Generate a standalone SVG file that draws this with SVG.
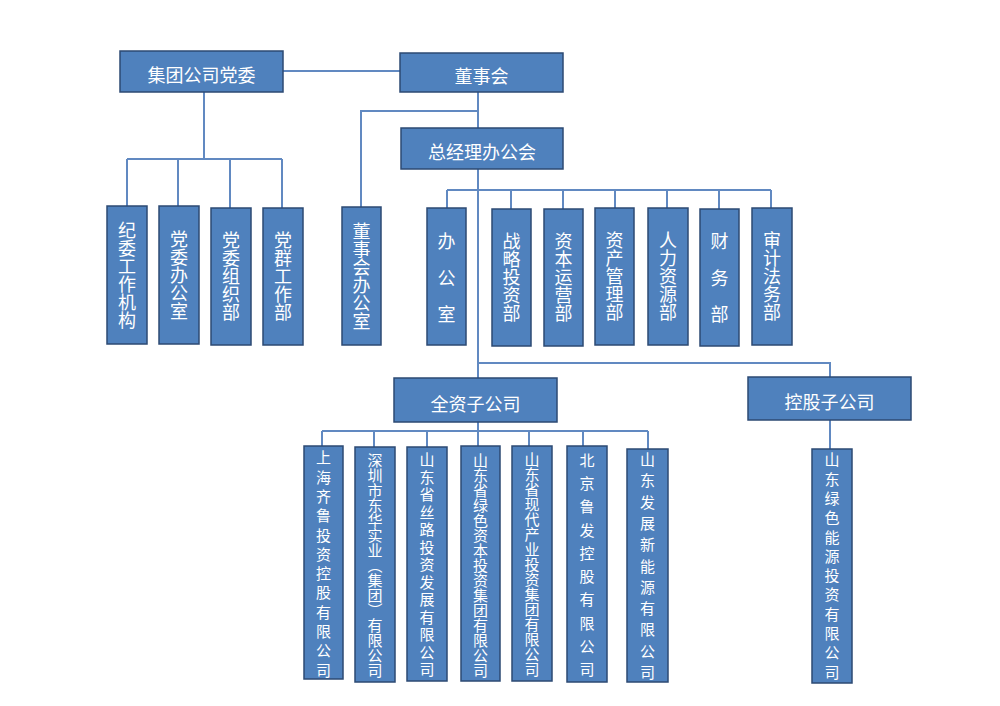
<svg xmlns="http://www.w3.org/2000/svg" width="1000" height="706" viewBox="0 0 1000 706">
<style>
.box{fill:#4F81BD;stroke:#2C4A73;stroke-width:1.5}
.t{fill:#fff;font-family:"Noto Sans CJK SC","Noto Sans",sans-serif;font-size:18px;text-anchor:middle;dominant-baseline:central}
.v{fill:#fff;font-family:"Noto Sans CJK SC","Noto Sans",sans-serif;font-size:18px;text-anchor:middle;writing-mode:vertical-rl}
.s{font-size:15px}
.c{fill:none;stroke:#6189C1;stroke-width:2}
</style>
<rect width="1000" height="706" fill="#fff"/>
<g id="connectors" class="c">
<path d="M283 71H400"/>
<path d="M204 92V159M127 159H282M127 159V206M178 159V206M230 159V208M282 159V208"/>
<path d="M478 92V128M478 111H361V207"/>
<path d="M478 169V378M447 190H771M447 190V208M511 190V209M563 190V209M615 190V208M667 190V208M719 190V209M771 190V208"/>
<path d="M478 363H830V377"/>
<path d="M478 422V431M322 431H648M322 431V446M374 431V447M427 431V447M478 431V446M529 431V446M583 431V446M648 431V449"/>
<path d="M830 420V449"/>
</g>
<g id="n-party"><rect class="box" x="120" y="51" width="163" height="41"/><text class="t" x="201.5" y="74">集团公司党委</text></g>
<g id="n-board"><rect class="box" x="400" y="53" width="163" height="39"/><text class="t" x="481.5" y="75">董事会</text></g>
<g id="n-gm"><rect class="box" x="401" y="128" width="162" height="41"/><text class="t" x="482" y="151">总经理办公会</text></g>
<g id="n-jw"><rect class="box" x="107" y="206" width="40" height="138"/><text class="v" x="127" y="275">纪委工作机构</text></g>
<g id="n-dwbgs"><rect class="box" x="159" y="206" width="40" height="138"/><text class="v" x="179" y="275">党委办公室</text></g>
<g id="n-dwzzb"><rect class="box" x="211" y="208" width="40" height="137"/><text class="v" x="231" y="276">党委组织部</text></g>
<g id="n-dqgzb"><rect class="box" x="263" y="208" width="40" height="137"/><text class="v" x="283" y="276">党群工作部</text></g>
<g id="n-dshbgs"><rect class="box" x="342" y="207" width="39" height="138"/><text class="v" x="361.5" y="276">董事会办公室</text></g>
<g id="n-bgs"><rect class="box" x="427" y="208" width="39" height="137"/><text class="v" x="446.5" y="287" letter-spacing="18.5">办公室</text></g>
<g id="n-zltzb"><rect class="box" x="492" y="209" width="39" height="137"/><text class="v" x="511.5" y="277">战略投资部</text></g>
<g id="n-zbyyb"><rect class="box" x="544" y="209" width="39" height="137"/><text class="v" x="563.5" y="277">资本运营部</text></g>
<g id="n-zcglb"><rect class="box" x="595" y="208" width="39" height="137"/><text class="v" x="614.5" y="276">资产管理部</text></g>
<g id="n-rlzyb"><rect class="box" x="648" y="208" width="40" height="137"/><text class="v" x="668" y="276">人力资源部</text></g>
<g id="n-cwb"><rect class="box" x="700" y="209" width="39" height="137"/><text class="v" x="719.5" y="287" letter-spacing="18.5">财务部</text></g>
<g id="n-sjfwb"><rect class="box" x="752" y="208" width="40" height="137"/><text class="v" x="772" y="276">审计法务部</text></g>
<g id="n-qz"><rect class="box" x="394" y="378" width="163" height="44"/><text class="t" x="475.5" y="403">全资子公司</text></g>
<g id="n-kg"><rect class="box" x="748" y="377" width="163" height="43"/><text class="t" x="829.5" y="401">控股子公司</text></g>
<g id="n-shql"><rect class="box" x="304" y="446" width="39" height="233"/><text class="v s" x="323.5" y="566" letter-spacing="4.3">上海齐鲁投资控股有限公司</text></g>
<g id="n-szdh"><rect class="box" x="355" y="447" width="40" height="235"/><text class="v s" x="375" y="565">深圳市东华实业（集团）有限公司</text></g>
<g id="n-sdsl"><rect class="box" x="407" y="447" width="40" height="234"/><text class="v s" x="427" y="566" letter-spacing="2.5">山东省丝路投资发展有限公司</text></g>
<g id="n-sdls"><rect class="box" x="461" y="446" width="39" height="235"/><text class="v s" x="480.5" y="565">山东省绿色资本投资集团有限公司</text></g>
<g id="n-sdxd"><rect class="box" x="512" y="446" width="40" height="235"/><text class="v s" x="532" y="564">山东省现代产业投资集团有限公司</text></g>
<g id="n-bjlf"><rect class="box" x="567" y="446" width="40" height="236"/><text class="v s" x="587" y="569" letter-spacing="8.3">北京鲁发控股有限公司</text></g>
<g id="n-sdxny"><rect class="box" x="627" y="449" width="41" height="233"/><text class="v s" x="647.5" y="569" letter-spacing="6.3">山东发展新能源有限公司</text></g>
<g id="n-sdlsny"><rect class="box" x="812" y="449" width="40" height="234"/><text class="v s" x="832" y="568" letter-spacing="4.3">山东绿色能源投资有限公司</text></g>
</svg>
